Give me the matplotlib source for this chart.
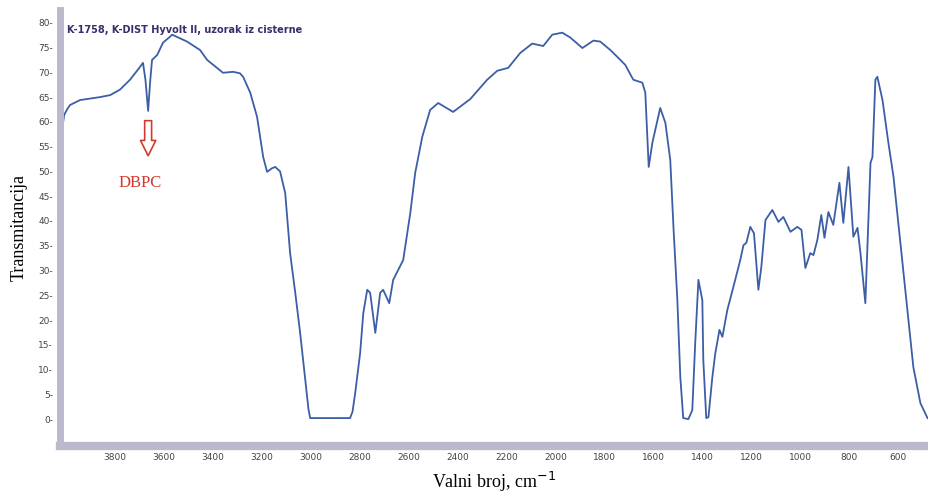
import numpy as np
import matplotlib
matplotlib.use("Agg")
import matplotlib.pyplot as plt
from matplotlib.patches import FancyArrowPatch
from matplotlib.ticker import MultipleLocator

# spectrum: wavenumber (cm-1) and transmittance
wavenumber = [4012, 4008, 3995, 3984, 3943, 3861, 3820, 3780, 3739, 3698, 3686, 3676, 3665,
              3657, 3649, 3628, 3604, 3575, 3567, 3506, 3453, 3424, 3359, 3318, 3290, 3277,
              3248, 3220, 3195, 3179, 3160, 3146, 3126, 3105, 3085, 3064, 3044, 3023, 3010,
              3003, 2840, 2830, 2819, 2799, 2786, 2770, 2758, 2737, 2717, 2705, 2680, 2664,
              2623, 2594, 2574, 2545, 2513, 2480, 2419, 2349, 2280, 2239, 2194, 2145, 2096,
              2051, 2014, 1973, 1940, 1891, 1846, 1818, 1777, 1744, 1716, 1683, 1646,
              1634, 1620, 1605, 1573, 1552, 1532, 1519, 1503, 1491, 1479, 1458, 1442,
              1430, 1417, 1401, 1397, 1385, 1376, 1360, 1348, 1331, 1319, 1299, 1274,
              1246, 1233, 1221, 1205, 1190, 1172, 1160, 1143, 1115, 1090, 1070, 1041,
              1013, 996, 980, 960, 947, 931, 915, 902, 886, 866, 841, 825, 804, 784,
              767, 755, 735, 714, 706, 694, 686, 665, 641, 620, 592, 563, 539, 510, 481]
transmittance = [60.0, 61.4, 62.6, 63.4, 64.4, 65.0, 65.4, 66.5, 68.5, 71.1, 71.9, 68.5, 62.2,
                 68.0, 72.5, 73.5, 76.0, 77.2, 77.6, 76.2, 74.5, 72.5, 69.9, 70.1, 69.8, 69.1,
                 65.9, 61.0, 52.9, 49.9, 50.6, 50.9, 50.0, 45.6, 33.5, 25.5, 17.4, 7.9, 2.0,
                 0.2, 0.2, 1.5, 5.3, 13.3, 21.4, 26.1, 25.5, 17.4, 25.5, 26.1, 23.4, 28.1,
                 32.1, 41.6, 49.7, 57.0, 62.4, 63.8, 62.0, 64.6, 68.5, 70.3, 70.9, 73.9, 75.8,
                 75.3, 77.6, 78.0, 77.0, 74.9, 76.4, 76.2, 74.5, 72.9, 71.5, 68.5, 67.9,
                 65.9, 50.9, 55.8, 62.8, 59.8, 52.3, 38.8, 24.0, 8.5, 0.2, 0.0, 1.8,
                 15.4, 28.1, 24.0, 11.9, 0.2, 0.4, 8.5, 13.3, 18.0, 16.6, 22.0, 26.7,
                 32.1, 35.1, 35.6, 38.8, 37.5, 26.1, 30.7, 40.2, 42.2, 39.8, 40.8, 37.8,
                 38.8, 38.2, 30.5, 33.5, 33.1, 36.2, 41.2, 36.6, 41.8, 39.2, 47.7, 39.6,
                 50.9, 36.8, 38.6, 33.5, 23.4, 51.7, 52.9, 68.5, 69.1, 64.4, 55.8, 48.9,
                 35.6, 22.0, 10.5, 3.2, 0.2]

x_ticks = list(range(3800, 599, -200))
y_ticks = list(range(0, 81, 5))

serif = ["Liberation Serif", "DejaVu Serif"]

fig = plt.figure(figsize=(9.29, 4.94), dpi=100)
ax = fig.add_axes([0.0646, 0.097, 0.9354, 0.883])

ax.plot(wavenumber, transmittance, color="#3b5ea6", lw=1.3, solid_joinstyle="round")

ax.set_xlim(4025, 475)
ax.set_ylim(-5.45, 82.6)

band = "#bdb8cc"
for side in ["top", "right"]:
    ax.spines[side].set_visible(False)
ax.spines["left"].set_color(band)
ax.spines["left"].set_linewidth(5)
ax.spines["bottom"].set_color(band)
ax.spines["bottom"].set_linewidth(6)

ax.set_xticks(x_ticks)
ax.set_xticklabels([str(t) for t in x_ticks])
ax.xaxis.set_minor_locator(MultipleLocator(50))
ax.set_yticks(y_ticks)
ax.set_yticklabels([str(t) + "-" for t in y_ticks])
ax.tick_params(axis="x", which="major", direction="inout", length=4, width=0.8,
               color="#555555", labelsize=6.5, labelcolor="#444444", pad=3)
ax.tick_params(axis="x", which="minor", direction="inout", length=2.5, width=0.6,
               color="#777777")
ax.tick_params(axis="y", length=0, labelsize=6.5, labelcolor="#444444", pad=5)

ax.set_xlabel("Valni broj, cm$^{-1}$", family=serif, fontsize=13, labelpad=6)
ax.set_ylabel("Transmitancija", family=serif, fontsize=13, labelpad=8)

ax.text(0.008, 0.965, "K-1758, K-DIST Hyvolt II, uzorak iz cisterne", transform=ax.transAxes,
        fontsize=7, fontweight="bold", color="#3d2c6b", va="top", ha="left")

arrow = FancyArrowPatch((3665, 60.8), (3665, 52.6), mutation_scale=1,
                        arrowstyle="simple,head_length=11,head_width=11,tail_width=5",
                        fc="white", ec="#d23a2f", lw=1.2)
ax.add_patch(arrow)
ax.text(3698, 47.7, "DBPC", family=serif, fontsize=12, color="#d23a2f",
        ha="center", va="center")

fig.savefig("out.png", dpi=100)
